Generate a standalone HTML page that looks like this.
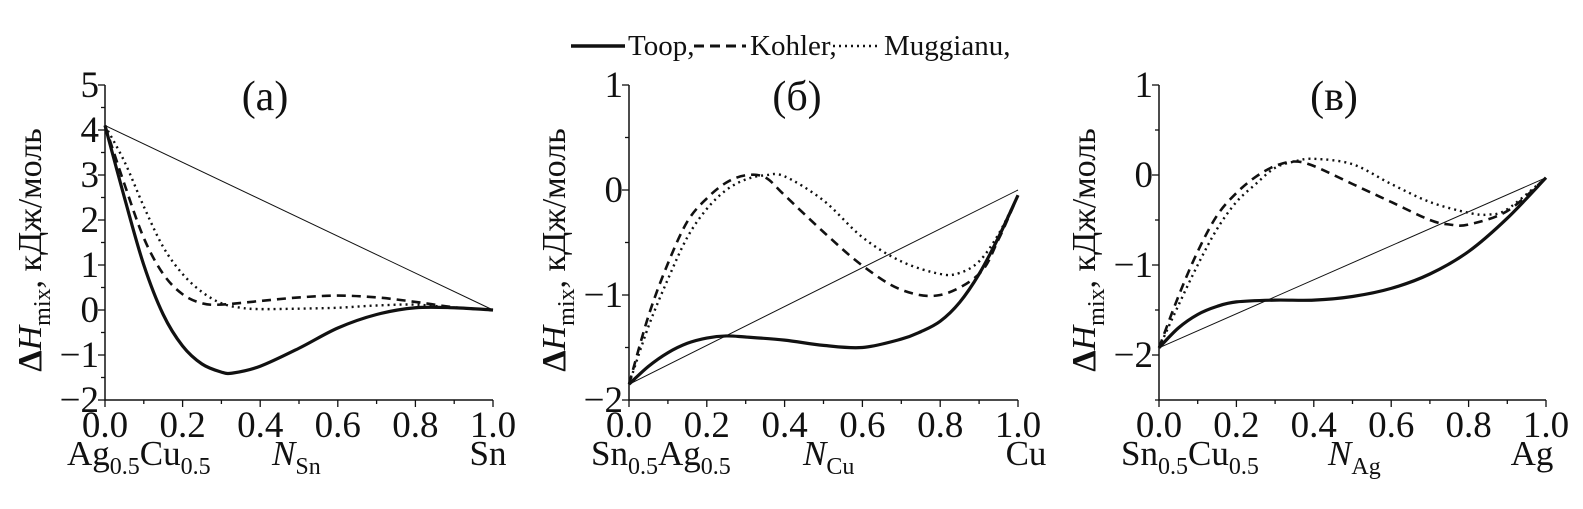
<!DOCTYPE html>
<html><head><meta charset="utf-8"><style>
body{margin:0;background:#fff;}
svg text{font-family:"Liberation Serif",serif;fill:#111;}
</style></head><body>
<svg id="chart" width="1583" height="504" viewBox="0 0 1583 504" xmlns="http://www.w3.org/2000/svg">
<g>
<line x1="571" y1="46" x2="625" y2="46" stroke="#111" stroke-width="3.5"/>
<text x="628" y="55" font-size="29">Toop,</text>
<line x1="694" y1="46" x2="746" y2="46" stroke="#111" stroke-width="3" stroke-dasharray="10,6"/>
<text x="750" y="55" font-size="29">Kohler,</text>
<line x1="833" y1="46" x2="880" y2="46" stroke="#111" stroke-width="2.5" stroke-dasharray="2,4"/>
<text x="884" y="55" font-size="29">Muggianu,</text>
</g>
</svg>
<script>
// Panel (a)
const xsA=[0,0.05,0.1,0.15,0.2,0.25,0.3,0.33,0.4,0.5,0.6,0.7,0.8,0.9,1];
const toopA=[4.1,2.5,1.0,-0.1,-0.8,-1.2,-1.38,-1.4,-1.25,-0.85,-0.4,-0.1,0.05,0.05,0];
const xsA2=[0,0.05,0.1,0.15,0.2,0.25,0.3,0.4,0.5,0.6,0.7,0.8,0.9,1];
const kohlerA=[4.1,2.8,1.6,0.8,0.35,0.15,0.12,0.2,0.28,0.32,0.28,0.18,0.06,0];
const xsA3=[0,0.05,0.1,0.15,0.2,0.25,0.3,0.35,0.4,0.5,0.6,0.7,0.8,0.9,1];
const muggA=[4.1,3.3,2.3,1.4,0.8,0.4,0.15,0.05,0.02,0.03,0.05,0.1,0.12,0.05,0];
const idealA=[4.1,0];
// Panel (б)
const xsB=[0,0.05,0.1,0.15,0.2,0.25,0.3,0.4,0.5,0.6,0.7,0.75,0.8,0.85,0.9,0.95,1];
const toopB=[-1.85,-1.68,-1.55,-1.46,-1.41,-1.39,-1.4,-1.43,-1.48,-1.5,-1.42,-1.35,-1.25,-1.07,-0.8,-0.45,-0.05];
const xsB2=[0,0.05,0.1,0.15,0.2,0.25,0.3,0.35,0.4,0.5,0.6,0.7,0.8,0.9,0.95,1];
const kohlerB=[-1.85,-1.2,-0.7,-0.3,-0.08,0.07,0.14,0.12,-0.05,-0.4,-0.72,-0.95,-1.0,-0.8,-0.47,-0.05];
const xsB3=[0,0.05,0.1,0.15,0.2,0.25,0.3,0.35,0.4,0.5,0.6,0.7,0.8,0.85,0.9,0.95,1];
const muggB=[-1.85,-1.3,-0.85,-0.45,-0.18,0,0.1,0.14,0.13,-0.1,-0.45,-0.68,-0.8,-0.79,-0.68,-0.42,-0.05];
const idealB=[-1.85,0];
// Panel (в)
const xsC=[0,0.05,0.1,0.15,0.2,0.3,0.4,0.5,0.6,0.7,0.8,0.9,1];
const toopC=[-1.92,-1.7,-1.55,-1.46,-1.41,-1.39,-1.39,-1.35,-1.26,-1.1,-0.85,-0.48,-0.03];
const xsC2=[0,0.05,0.1,0.15,0.2,0.25,0.3,0.35,0.4,0.5,0.6,0.7,0.75,0.8,0.9,1];
const kohlerC=[-1.92,-1.35,-0.85,-0.45,-0.2,-0.02,0.1,0.15,0.1,-0.1,-0.3,-0.5,-0.55,-0.55,-0.4,-0.03];
const xsC3=[0,0.05,0.1,0.15,0.2,0.25,0.3,0.35,0.4,0.5,0.6,0.7,0.8,0.85,0.9,1];
const muggC=[-1.92,-1.45,-1.0,-0.6,-0.3,-0.1,0.08,0.15,0.18,0.12,-0.1,-0.3,-0.42,-0.44,-0.38,-0.03];
const idealC=[-1.92,-0.03];
const xTicks=["0.0","0.2","0.4","0.6","0.8","1.0"];
const yTicksA=["5","4","3","2","1","0","−1","−2"];
const yTicksBC=["1","0","−1","−2"];

const svg=document.getElementById('chart');
const NS='http://www.w3.org/2000/svg';
function mk(tag,attrs,parent){const e=document.createElementNS(NS,tag);for(const k in attrs)e.setAttribute(k,attrs[k]);(parent||svg).appendChild(e);return e;}
function smooth(pts){let d=`M${pts[0][0]},${pts[0][1]}`;for(let i=0;i<pts.length-1;i++){const p0=pts[Math.max(0,i-1)],p1=pts[i],p2=pts[i+1],p3=pts[Math.min(pts.length-1,i+2)];
const c1=[p1[0]+(p2[0]-p0[0])/6,p1[1]+(p2[1]-p0[1])/6],c2=[p2[0]-(p3[0]-p1[0])/6,p2[1]-(p3[1]-p1[1])/6];
d+=` C${c1[0]},${c1[1]} ${c2[0]},${c2[1]} ${p2[0]},${p2[1]}`;}return d;}

function panel(cfg){
  const g=mk('g',{});
  
  
  const sx=v=>cfg.x0+v*(cfg.x1-cfg.x0);
  const sy=v=>cfg.yb+(v-cfg.ymin)*(cfg.yt-cfg.yb)/(cfg.ymax-cfg.ymin);
  const ax=mk('path',{d:`M${cfg.x0},${cfg.yt} L${cfg.x0},${cfg.yb} L${cfg.x1},${cfg.yb}`,fill:'none',stroke:'#111','stroke-width':1.5},g);
  
  
  for(let i=0;i<=10;i++){const x=sx(i/10);mk('line',{x1:x,y1:cfg.yb,x2:x,y2:cfg.yb+(i%2?4:7),stroke:'#111','stroke-width':1.3},g);}
  xTicks.forEach((t,i)=>{const tx=mk('text',{x:sx(i*0.2),y:437,'font-size':37,'text-anchor':'middle'},g);tx.textContent=t;
    
    });
  for(let v=cfg.ymin;v<=cfg.ymax+1e-9;v+=0.5){const y=sy(v);const maj=Math.abs(v-Math.round(v))<1e-6;mk('line',{x1:cfg.x0,y1:y,x2:cfg.x0-(maj?7:4),y2:y,stroke:'#111','stroke-width':1.3},g);}
  cfg.yTicks.forEach((t,i)=>{const v=cfg.ymaxLabel-i;const tx=mk('text',{x:cfg.x0-6,y:sy(v)+12,'font-size':37,'text-anchor':'end'},g);tx.textContent=t;
    
    });
  const tt=mk('text',{x:cfg.titleX,y:110,'font-size':42,'text-anchor':'middle'},g);tt.textContent=cfg.title;
  
  
  const yt=mk('text',{transform:`translate(${cfg.x0-64},${cfg.ytY}) rotate(-90)`,'font-size':34,'text-anchor':'middle'},g);
  yt.innerHTML='<tspan font-weight="bold">Δ</tspan><tspan font-style="italic">H</tspan><tspan font-size="24" dy="9">mix</tspan><tspan dy="-9">, кДж/моль</tspan>';
  
  
  const l=mk('text',{x:cfg.x0-38,y:465,'font-size':35},g);
  l.innerHTML=cfg.left;
  
  
  const m=mk('text',{x:cfg.midX,y:465,'font-size':35},g);
  m.innerHTML=`<tspan font-style="italic">N</tspan><tspan font-size="24" dy="9">${cfg.mid}</tspan>`;
  
  
  const r=mk('text',{x:cfg.x1+cfg.rightDx,y:465,'font-size':35,'text-anchor':'middle'},g);
  r.textContent=cfg.right;
  
  
  const il=mk('line',{x1:sx(0),y1:sy(cfg.ideal[0]),x2:sx(1),y2:sy(cfg.ideal[1]),stroke:'#111','stroke-width':1},g);
  
  
  cfg.series.forEach(s=>{const p=mk('path',{d:smooth(s.xs.map((x,i)=>[sx(x),sy(s.ys[i])])),fill:'none',stroke:'#111','stroke-width':s.w,'stroke-dasharray':s.dash||'none'},g);
    
    });
}
const sub=(a,b)=>`${a}<tspan font-size="24" dy="9">0.5</tspan><tspan dy="-9">${b}</tspan><tspan font-size="24" dy="9">0.5</tspan>`;
panel({name:'panel-a',x0:105,x1:493,yt:85,yb:400,ymin:-2,ymax:5,ymaxLabel:5,yTicks:yTicksA,title:'(a)',titleX:265,ytY:250,
  left:sub('Ag','Cu'),mid:'Sn',midX:272,right:'Sn',rightDx:-5,ideal:idealA,
  series:[{name:'toop-line',xs:xsA,ys:toopA,w:3.2},{name:'kohler-line',xs:xsA2,ys:kohlerA,w:2.6,dash:'9,6'},{name:'muggianu-line',xs:xsA3,ys:muggA,w:2.4,dash:'2,4'}]});
panel({name:'panel-b',x0:629,x1:1018,yt:85,yb:400,ymin:-2,ymax:1,ymaxLabel:1,yTicks:yTicksBC,title:'(б)',titleX:797,ytY:250,
  left:sub('Sn','Ag'),mid:'Cu',midX:803,right:'Cu',rightDx:8,ideal:idealB,
  series:[{name:'toop-line',xs:xsB,ys:toopB,w:3.2},{name:'kohler-line',xs:xsB2,ys:kohlerB,w:2.6,dash:'9,6'},{name:'muggianu-line',xs:xsB3,ys:muggB,w:2.4,dash:'2,4'}]});
panel({name:'panel-c',x0:1159,x1:1546,yt:85,yb:400,ymin:-2.5,ymax:1,ymaxLabel:1,yTicks:yTicksBC,title:'(в)',titleX:1334,ytY:250,
  left:sub('Sn','Cu'),mid:'Ag',midX:1328,right:'Ag',rightDx:-14,ideal:idealC,
  series:[{name:'toop-line',xs:xsC,ys:toopC,w:3.2},{name:'kohler-line',xs:xsC2,ys:kohlerC,w:2.6,dash:'9,6'},{name:'muggianu-line',xs:xsC3,ys:muggC,w:2.4,dash:'2,4'}]});
</script>
</body></html>
